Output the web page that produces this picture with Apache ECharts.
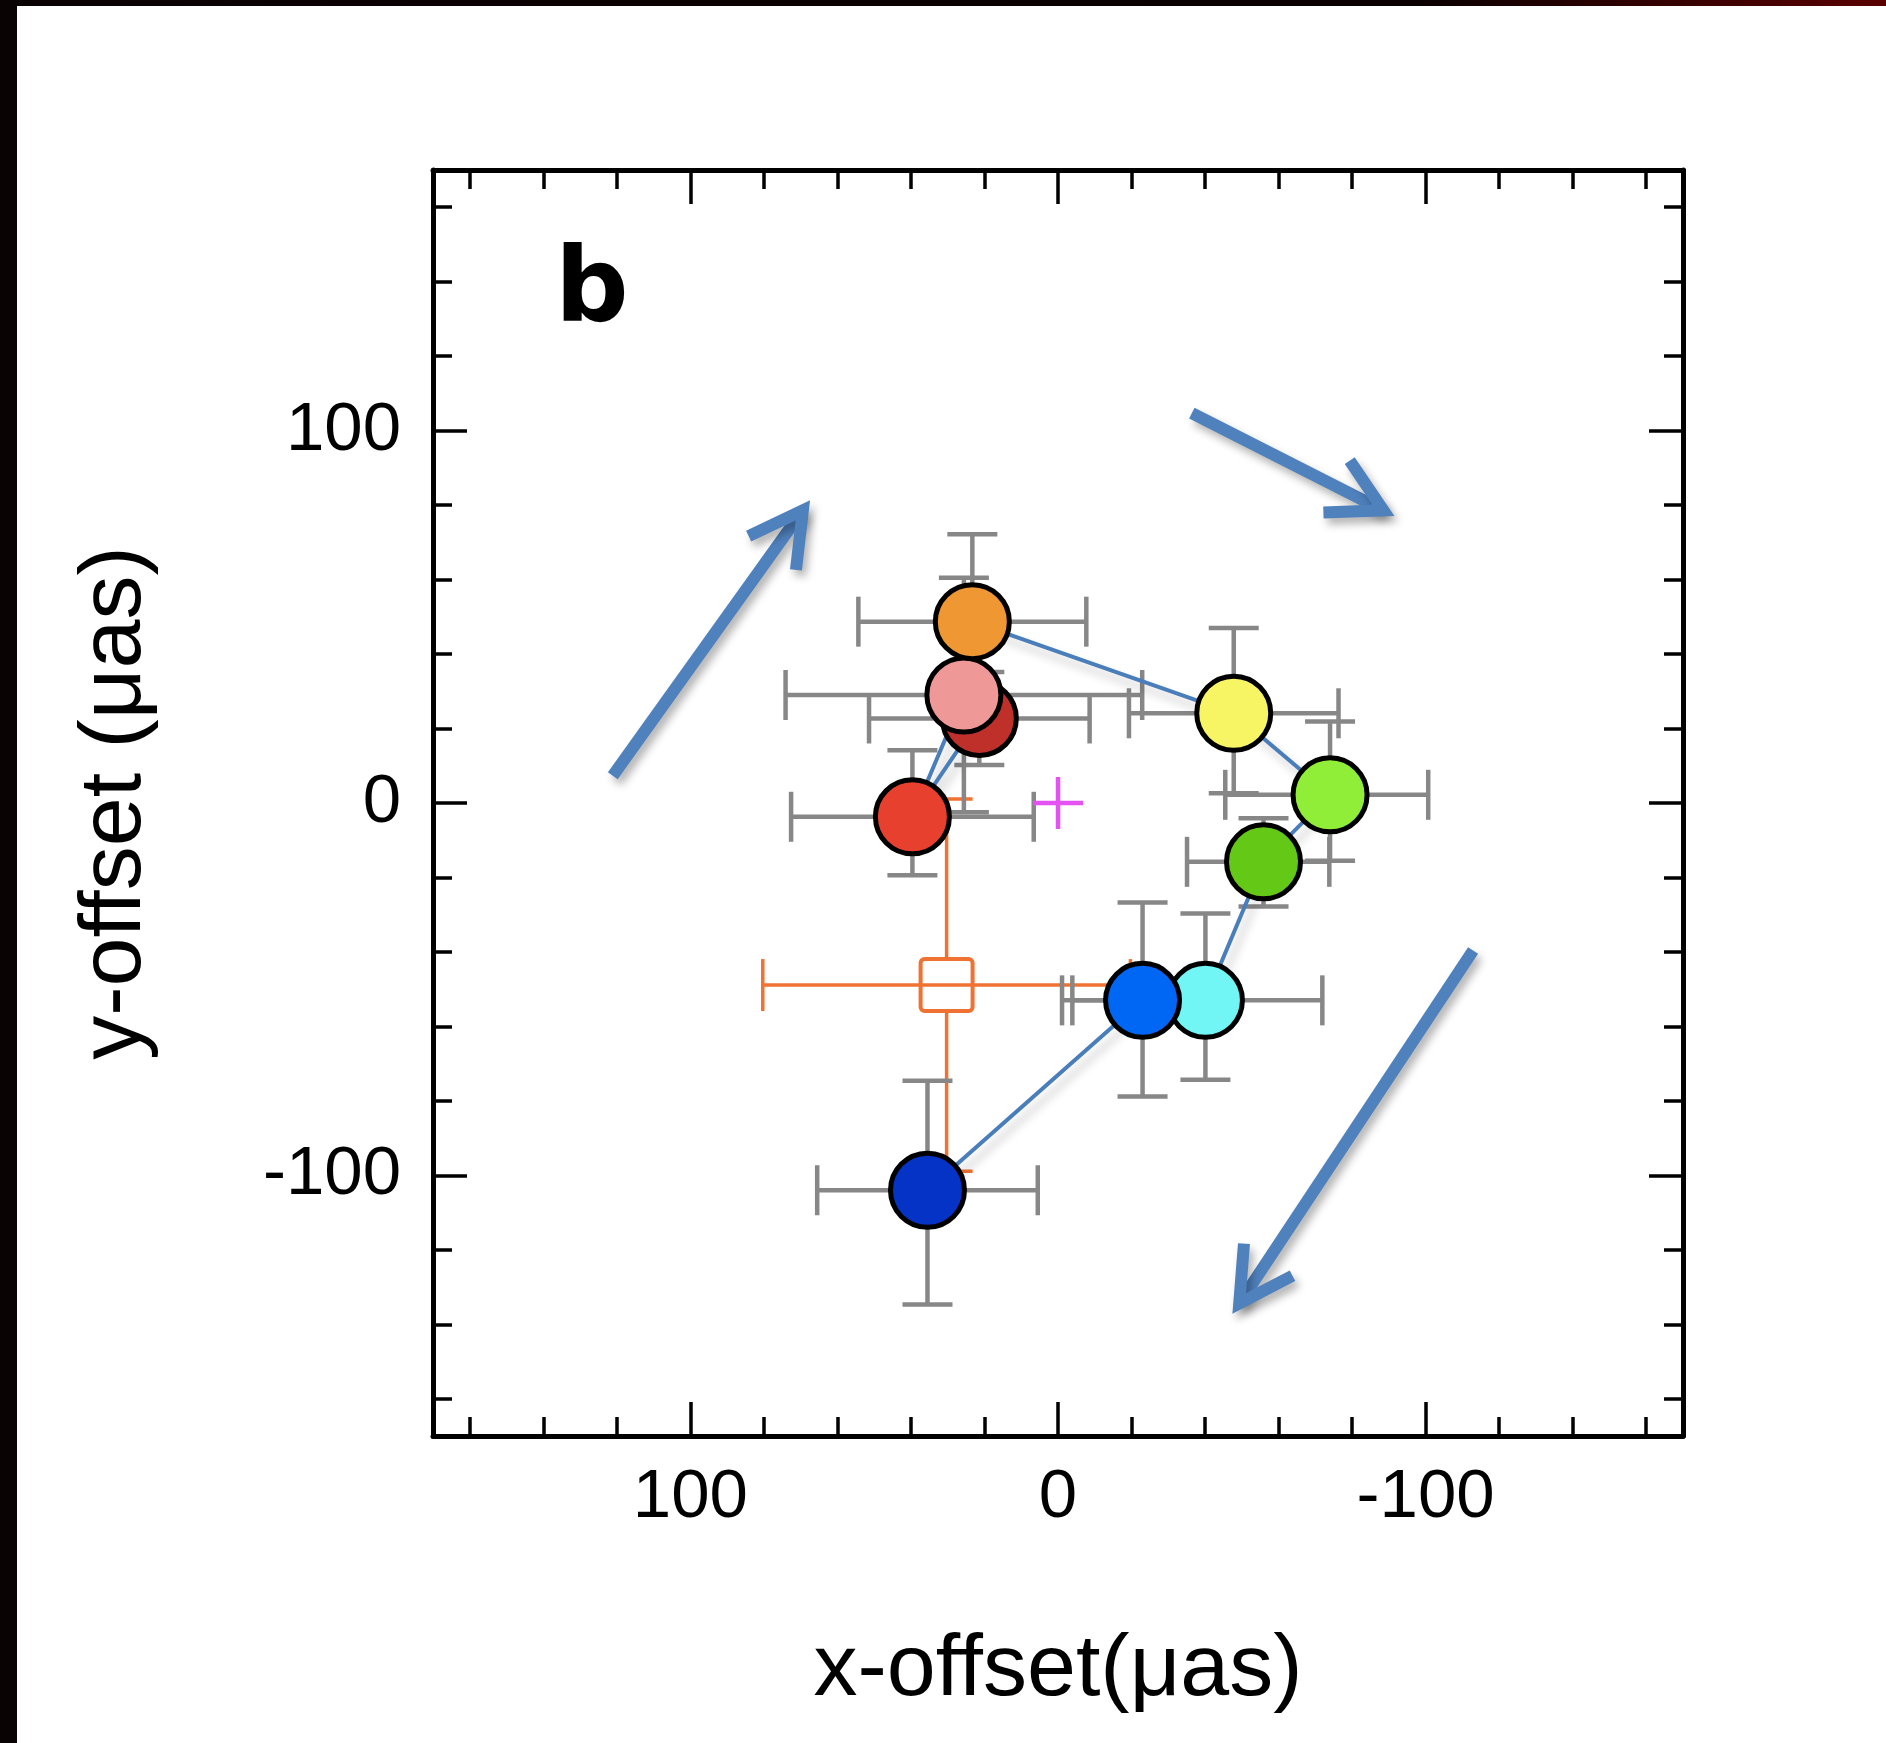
<!DOCTYPE html>
<html>
<head>
<meta charset="utf-8">
<script src="https://cdn.jsdelivr.net/npm/echarts@6/dist/echarts.min.js"></script>
<style>
html,body{margin:0;padding:0;background:#ffffff;}
#chart{width:1886px;height:1743px;}
</style>
</head>
<body>
<div id="chart"></div>
<script>
// ---- data ----
const xValues   = [21.4, 39.6, 25.6, 23.3, -47.8, -74.0, -55.9, -40.1, -23.0, 35.5];
const yValues   = [22.7, -3.7, 29.0, 48.7, 24.1, 2.2, -15.8, -53.0, -53.0, -104.0];
const xErrPlus  = [30.0, 33.0, 48.5, 31.0, 28.5, 28.5, 20.8, 39.0, 19.1, 30.0];
const xErrMinus = [30.0, 33.0, 48.5, 31.0, 28.5, 26.7, 17.9, 31.8, 19.0, 30.0];
const yErrPlus  = [12.5, 17.9, 31.5, 23.5, 22.9, 19.7, 11.7, 23.3, 26.3, 29.4];
const yErrMinus = [12.5, 15.7, 31.5, 23.5, 21.5, 17.7, 12.0, 21.3, 25.8, 30.7];
const palette   = ['#C0302A', '#E8402F', '#EE9898', '#EF9733', '#F8F564', '#91EE38', '#64C817', '#72F5F5', '#0066F4', '#0533C6'];

const refX = [30.3];
const refY = [-48.9];
const refErr = [50];

const originX = [0];
const originY = [0];

// arrows: [tailX, tailY, tipX, tipY] in data units
const arrowTailX = [121.1, -36.4, -112.9];
const arrowTailY = [7.3, 104.7, -39.6];
const arrowTipX  = [69.4, -88.5, -49.3];
const arrowTipY  = [78.6, 78.6, -134.4];

const majorTicks = [-100, 0, 100];
const minorTicks = [-160, -140, -120, -80, -60, -40, -20, 20, 40, 60, 80, 120, 140, 160];
const axisMin = -170, axisMax = 170;

const xName = 'x-offset(μas)';
const yName = 'y-offset (μas)';
const panelLabel = 'b';

// ---- chart ----
const FONT = '"Liberation Sans", Arial, Helvetica, sans-serif';
const chart = echarts.init(document.getElementById('chart'), null, {renderer: 'canvas'});

function makeAxis(dim, pos, major, withLabel, showLine) {
  const ax = {
    type: 'value', min: axisMin, max: axisMax, position: pos, gridIndex: 0,
    inverse: dim === 'x',
    axisLine: {show: showLine, onZero: false, lineStyle: {color: '#000', width: 5}},
    axisTick: {show: true, inside: true, length: major ? 34 : 19,
      customValues: major ? majorTicks : minorTicks,
      lineStyle: {color: '#000', width: 3.5}},
    axisLabel: {show: withLabel, customValues: majorTicks, color: '#000',
      fontSize: 69, fontFamily: FONT, margin: dim === 'x' ? 27 : 32},
    splitLine: {show: false},
    minorTick: {show: false},
    axisPointer: {show: false}
  };
  if (withLabel) {
    ax.name = dim === 'x' ? xName : yName;
    ax.nameLocation = 'middle';
    ax.nameGap = dim === 'x' ? 191 : 273;
    ax.nameTextStyle = {color: '#000', fontSize: 88, fontFamily: FONT};
  }
  return ax;
}

const errData = xValues.map((x, i) => [x, yValues[i], xErrPlus[i], xErrMinus[i], yErrPlus[i], yErrMinus[i]]);
const scatterData = xValues.map((x, i) => ({value: [x, yValues[i]], itemStyle: {color: palette[i]}}));
const pathData = xValues.map((x, i) => [x, yValues[i]]);
const refData = refX.map((x, i) => [x, refY[i], refErr[i]]);
const originData = originX.map((x, i) => [x, originY[i]]);
const arrowData = arrowTailX.map((x, i) => [x, arrowTailY[i], arrowTipX[i], arrowTipY[i]]);

function seg(x1, y1, x2, y2, style) {
  return {type: 'line', shape: {x1: x1, y1: y1, x2: x2, y2: y2}, style: style};
}

const option = {
  animation: false,
  backgroundColor: '#ffffff',
  title: {
    text: panelLabel, left: 555, top: 243, padding: 0,
    textStyle: {fontSize: 103, fontWeight: 'bold', fontFamily: '"DejaVu Sans", sans-serif', color: '#000'}
  },
  grid: {left: 433, right: 203, top: 170, bottom: 307, containLabel: false, outerBoundsMode: 'none'},
  xAxis: [
    makeAxis('x', 'bottom', true, true, true),
    makeAxis('x', 'bottom', false, false, false),
    makeAxis('x', 'top', true, false, true),
    makeAxis('x', 'top', false, false, false)
  ],
  yAxis: [
    makeAxis('y', 'left', true, true, true),
    makeAxis('y', 'left', false, false, false),
    makeAxis('y', 'right', true, false, true),
    makeAxis('y', 'right', false, false, false)
  ],
  graphic: [
    {type: 'rect', left: 0, top: 0, z: 100, shape: {x: 0, y: 0, width: 17, height: 1743}, style: {fill: '#0A0303'}},
    {type: 'rect', left: 0, top: 0, z: 100, shape: {x: 0, y: 0, width: 1886, height: 6},
      style: {fill: new echarts.graphic.LinearGradient(0, 0, 1, 0, [
        {offset: 0, color: '#0A0303'}, {offset: 0.75, color: '#0A0000'}, {offset: 1, color: '#5A0000'}])}}
  ],
  series: [
    {
      // reference position (open square with error bars)
      type: 'custom', z: 1, xAxisIndex: 0, yAxisIndex: 0, data: refData,
      encode: {x: 0, y: 1},
      renderItem: function (params, api) {
        const x = api.value(0), y = api.value(1), e = api.value(2);
        const c = api.coord([x, y]);
        const l = api.coord([x + e, y]), r = api.coord([x - e, y]);
        const t = api.coord([x, y + e]), b = api.coord([x, y - e]);
        const st = {stroke: '#F07232', lineWidth: 3.5, fill: null};
        const h = 26, s = 26;
        return {type: 'group', children: [
          seg(l[0], c[1], r[0], c[1], st),
          seg(c[0], t[1], c[0], c[1] - s, st),
          seg(c[0], c[1] + s, c[0], b[1], st),
          seg(l[0], c[1] - h, l[0], c[1] + h, st),
          seg(r[0], c[1] - h, r[0], c[1] + h, st),
          seg(c[0] - h, t[1], c[0] + h, t[1], st),
          seg(c[0] - h, b[1], c[0] + h, b[1], st),
          {type: 'rect', shape: {x: c[0] - s, y: c[1] - s, width: 2 * s, height: 2 * s, r: 4},
            style: {stroke: '#F07232', lineWidth: 4, fill: null}}
        ]};
      }
    },
    {
      // error bars
      type: 'custom', z: 2, xAxisIndex: 0, yAxisIndex: 0, data: errData,
      encode: {x: 0, y: 1},
      renderItem: function (params, api) {
        const x = api.value(0), y = api.value(1);
        const c = api.coord([x, y]);
        const l = api.coord([x + api.value(2), y]);
        const r = api.coord([x - api.value(3), y]);
        const t = api.coord([x, y + api.value(4)]);
        const b = api.coord([x, y - api.value(5)]);
        const st = {stroke: '#878787', lineWidth: 4.5, fill: null};
        const h = 25;
        return {type: 'group', children: [
          seg(l[0], c[1], r[0], c[1], st),
          seg(c[0], t[1], c[0], b[1], st),
          seg(l[0], c[1] - h, l[0], c[1] + h, st),
          seg(r[0], c[1] - h, r[0], c[1] + h, st),
          seg(c[0] - h, t[1], c[0] + h, t[1], st),
          seg(c[0] - h, b[1], c[0] + h, b[1], st)
        ]};
      }
    },
    {
      // connecting path
      type: 'line', z: 3, xAxisIndex: 0, yAxisIndex: 0, data: pathData,
      symbol: 'none', silent: true,
      lineStyle: {color: '#4A7EBB', width: 4, shadowColor: 'rgba(0,0,0,0.22)', shadowBlur: 10,
        shadowOffsetX: 5, shadowOffsetY: 8}
    },
    {
      type: 'scatter', z: 4, xAxisIndex: 0, yAxisIndex: 0, data: scatterData,
      symbol: 'circle', symbolSize: 74,
      itemStyle: {borderColor: '#000', borderWidth: 5, opacity: 1},
      emphasis: {disabled: true}
    },
    {
      // origin cross
      type: 'custom', z: 5, xAxisIndex: 0, yAxisIndex: 0, data: originData,
      encode: {x: 0, y: 1},
      renderItem: function (params, api) {
        const c = api.coord([api.value(0), api.value(1)]);
        const st = {stroke: '#E452F2', lineWidth: 4.5};
        return {type: 'group', children: [
          seg(c[0] - 25, c[1], c[0] + 25, c[1], st),
          seg(c[0], c[1] - 26, c[0], c[1] + 26, st)
        ]};
      }
    },
    {
      // motion arrows
      type: 'custom', z: 6, xAxisIndex: 0, yAxisIndex: 0, data: arrowData,
      encode: {x: [0, 2], y: [1, 3]},
      renderItem: function (params, api) {
        const p1 = api.coord([api.value(0), api.value(1)]);
        const p2 = api.coord([api.value(2), api.value(3)]);
        const ang = Math.atan2(p1[1] - p2[1], p1[0] - p2[0]);
        const L = 60, half = 29 * Math.PI / 180;
        const w1 = [p2[0] + L * Math.cos(ang + half), p2[1] + L * Math.sin(ang + half)];
        const w2 = [p2[0] + L * Math.cos(ang - half), p2[1] + L * Math.sin(ang - half)];
        const st = {stroke: '#4F81BD', lineWidth: 12, fill: null, lineCap: 'butt', lineJoin: 'miter',
          shadowColor: 'rgba(0,0,0,0.3)', shadowBlur: 8, shadowOffsetX: 4, shadowOffsetY: 6};
        return {type: 'group', children: [
          seg(p1[0], p1[1], p2[0], p2[1], st),
          {type: 'polyline', shape: {points: [w1, p2, w2]}, style: st}
        ]};
      }
    }
  ]
};
chart.setOption(option);
</script>
</body>
</html>
